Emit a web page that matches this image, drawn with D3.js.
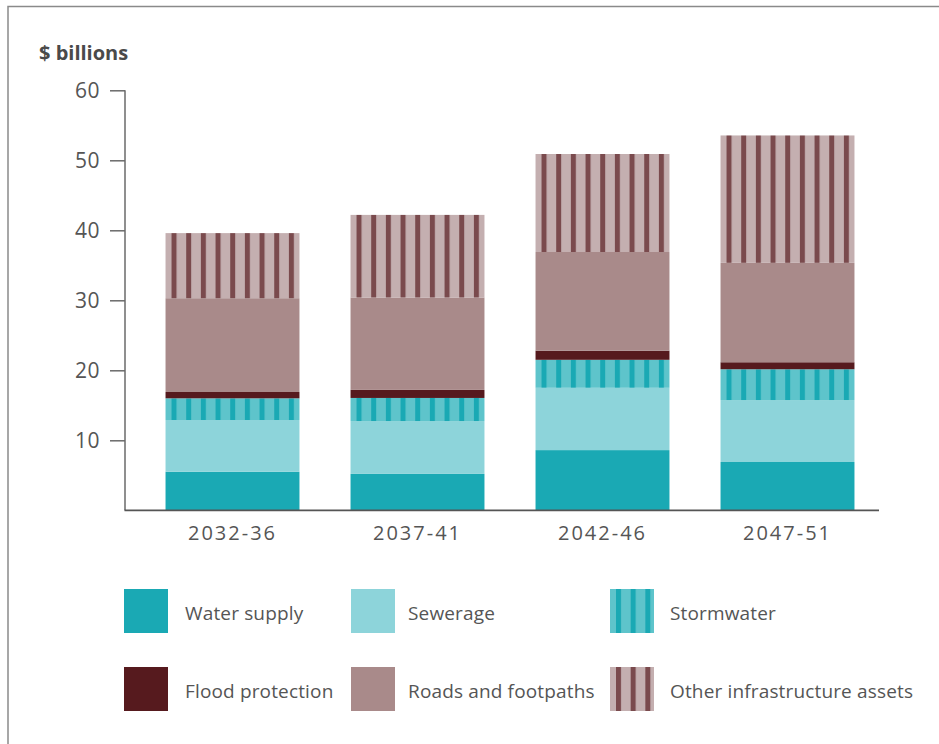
<!DOCTYPE html>
<html>
<head>
<meta charset="utf-8">
<script src="https://cdn.jsdelivr.net/npm/d3@7"></script>
<style>
  body { margin: 0; background: #fff; }
  text { font-family: "Open Sans", sans-serif; }
</style>
</head>
<body>
<svg id="chart" width="939" height="744"></svg>
<script>
// Capital expenditure forecasts, $ billions, by five-year period
const periods = ["2032-36", "2037-41", "2042-46", "2047-51"];
const seriesNames = ["Water supply", "Sewerage", "Stormwater", "Flood protection", "Roads and footpaths", "Other infrastructure assets"];
const waterSupply     = [5.5, 5.2, 8.6, 6.9];
const sewerage        = [7.4, 7.55, 8.9, 8.85];
const stormwater      = [3.1, 3.3, 4.0, 4.4];
const floodProtection = [0.9, 1.15, 1.3, 1.0];
const roadsFootpaths  = [13.4, 13.2, 14.1, 14.2];
const otherAssets     = [9.3, 11.8, 14.0, 18.2];
const yTicks = [10, 20, 30, 40, 50, 60];

const seriesValues = [waterSupply, sewerage, stormwater, floodProtection, roadsFootpaths, otherAssets];
const keys = ["water", "sewerage", "storm", "flood", "roads", "other"];

// fill style per series: solid colour, or vertical stripes on a base colour
const styles = {
  water:    { fill: "#1aa9b4" },
  sewerage: { fill: "#8dd4da" },
  storm:    { base: "#5ec4cb", stripe: "#1aa9b4" },
  flood:    { fill: "#561a1e" },
  roads:    { fill: "#a98a8a" },
  other:    { base: "#c4afb0", stripe: "#7a4a4d" }
};

const table = periods.map((p, i) => {
  const row = { period: p };
  keys.forEach((k, j) => row[k] = seriesValues[j][i]);
  return row;
});

const svg = d3.select("#chart");
const defs = svg.append("defs");

const stripePeriod = 14.67, stripeWidth = 5, stripeOffset = 6;
function stripePattern(id, x0, st) {
  const p = defs.append("pattern")
    .attr("id", id)
    .attr("patternUnits", "userSpaceOnUse")
    .attr("x", x0 + stripeOffset).attr("y", 0)
    .attr("width", stripePeriod).attr("height", 744);
  p.append("rect").attr("width", stripePeriod).attr("height", 744).attr("fill", st.base);
  p.append("rect").attr("width", stripeWidth).attr("height", 744).attr("fill", st.stripe);
}
function fillFor(key, id, x0) {
  const st = styles[key];
  if (st.fill) return st.fill;
  stripePattern(id, x0, st);
  return `url(#${id})`;
}

// frame
svg.append("path")
  .attr("d", "M8,744 V6.5 H939")
  .attr("fill", "none").attr("stroke", "#8a8a8a").attr("stroke-width", 1.5);

const x = d3.scaleBand().domain(periods).range([140, 880]).paddingInner(0.276).paddingOuter(0.138);
const y = d3.scaleLinear().domain([0, 60]).range([510.3, 90.3]);

const stack = d3.stack().keys(keys);
const layers = stack(table);

// bars
const g = svg.append("g");
layers.forEach(layer => {
  const key = layer.key;
  g.append("g").selectAll("rect")
    .data(layer)
    .join("rect")
    .attr("x", d => x(d.data.period))
    .attr("width", x.bandwidth())
    .attr("y", d => y(d[1]))
    .attr("height", d => y(d[0]) - y(d[1]))
    .attr("fill", (d, i) => fillFor(key, `${key}-bar-${i}`, x(d.data.period)));
});

// y axis
const yAxis = svg.append("g")
  .attr("transform", "translate(125,0)")
  .call(d3.axisLeft(y).tickValues(yTicks).tickSize(15).tickPadding(10).tickSizeOuter(0));
yAxis.select(".domain").remove();
yAxis.append("line").attr("x1", 0).attr("x2", 0).attr("y1", y(60)).attr("y2", y(0))
  .attr("stroke", "#6a6a6a").attr("stroke-width", 1.5);
yAxis.selectAll(".tick line").attr("stroke", "#6a6a6a").attr("stroke-width", 1.5);
yAxis.selectAll(".tick text").attr("fill", "#555").style("font-size", "21px")
  .style("letter-spacing", "0.5px")
  .style("font-family", "'Open Sans', sans-serif");

// x axis
const xAxis = svg.append("g")
  .attr("transform", `translate(0,${y(0)})`)
  .call(d3.axisBottom(x).tickSize(0).tickPadding(16));
xAxis.select(".domain").remove();
xAxis.append("line").attr("x1", 124.5).attr("x2", 879).attr("y1", 0).attr("y2", 0)
  .attr("stroke", "#555").attr("stroke-width", 1.8);
xAxis.selectAll(".tick text").attr("fill", "#555").style("font-size", "20px")
  .style("letter-spacing", "2px")
  .style("font-family", "'Open Sans', sans-serif");

// axis unit label
svg.append("text").attr("x", 39).attr("y", 60)
  .attr("fill", "#4a4a4a").style("font-size", "20px").style("font-weight", "bold")
  .text("$ billions");

// legend
const legendCols = [{ sx: 124, tx: 185 }, { sx: 351, tx: 408 }, { sx: 610, tx: 670 }];
const legendRows = [{ sy: 589, ty: 620 }, { sy: 667, ty: 698 }];
const legend = svg.append("g");
keys.forEach((k, i) => {
  const c = legendCols[i % 3], r = legendRows[Math.floor(i / 3)];
  legend.append("rect")
    .attr("x", c.sx).attr("y", r.sy).attr("width", 44).attr("height", 44)
    .attr("fill", fillFor(k, `${k}-legend`, c.sx));
  legend.append("text")
    .attr("x", c.tx).attr("y", r.ty)
    .attr("fill", "#555").style("font-size", "19px")
    .style("letter-spacing", "0.15px")
    .text(seriesNames[i]);
});
</script>
</body>
</html>
